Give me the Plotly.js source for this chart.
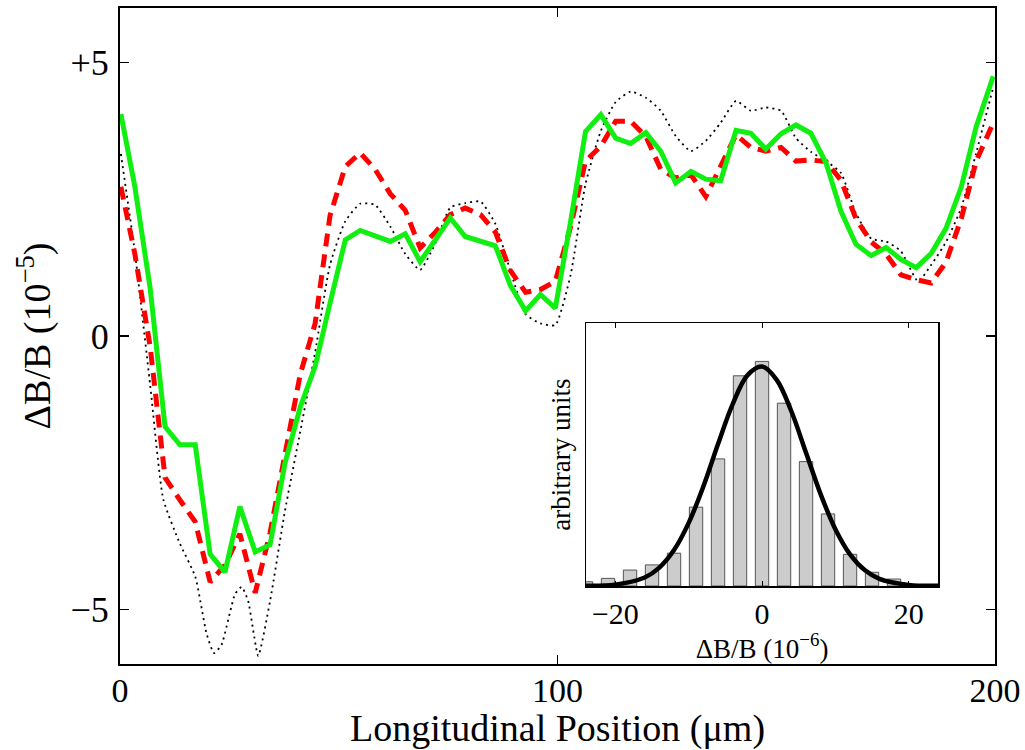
<!DOCTYPE html>
<html>
<head>
<meta charset="utf-8">
<script src="https://cdn.plot.ly/plotly-3.0.1.min.js"></script>
<style>
  html, body { margin: 0; padding: 0; background: #fff; }
  #chart { width: 1025px; height: 750px; }
</style>
</head>
<body>
<div id="chart"></div>
<script>
// ---- Main plot data (longitudinal position in µm, ΔB/B in 1e-5) ----
const positions = [0.2, 3.4, 6.9, 10.3, 13.7, 17.2, 20.6, 24.0, 27.4, 30.9, 34.3, 37.7, 41.2, 44.6, 48.0, 51.5, 54.9, 58.3, 61.8, 65.2, 68.6, 72.1, 75.5, 78.9, 82.4, 85.8, 89.2, 92.7, 96.1, 99.5, 103.0, 106.4, 109.9, 113.3, 116.7, 120.2, 123.6, 127.0, 130.5, 133.9, 137.3, 140.8, 144.2, 147.6, 151.1, 154.5, 157.9, 161.4, 164.8, 168.2, 171.7, 175.1, 178.5, 182.0, 185.4, 188.8, 192.3, 195.7, 199.6];

const greenValues = [4.06, 2.73, 0.87, -1.66, -1.99, -1.99, -3.99, -4.32, -3.12, -3.95, -3.82, -2.33, -1.30, -0.56, 0.60, 1.76, 1.93, 1.83, 1.73, 1.87, 1.36, 1.76, 2.16, 1.82, 1.74, 1.65, 0.93, 0.46, 0.76, 0.51, 2.10, 3.74, 4.05, 3.62, 3.52, 3.72, 3.38, 2.80, 3.01, 2.87, 2.84, 3.76, 3.71, 3.42, 3.70, 3.86, 3.71, 3.16, 2.28, 1.68, 1.47, 1.62, 1.40, 1.25, 1.51, 1.97, 2.73, 3.83, 4.75];

const redValues = [2.73, 1.50, -0.20, -2.59, -3.00, -3.40, -4.50, -4.19, -3.62, -4.70, -3.60, -2.20, -0.70, 0.23, 2.20, 3.10, 3.35, 3.05, 2.60, 2.30, 1.61, 1.90, 2.22, 2.34, 2.22, 1.90, 1.20, 0.80, 0.85, 1.00, 2.00, 3.20, 3.47, 3.93, 3.93, 3.65, 3.05, 2.89, 2.95, 2.55, 3.10, 3.68, 3.45, 3.38, 3.45, 3.20, 3.22, 3.19, 2.85, 2.15, 1.72, 1.50, 1.12, 1.03, 0.97, 1.35, 2.15, 3.20, 3.90];

const dottedPositions = [0.2, 3.4, 6.9, 9.9, 13.7, 17.2, 19.8, 21.5, 23.2, 26.3, 27.8, 29.3, 31.6, 34.3, 37.7, 41.2, 44.6, 48.0, 51.5, 54.9, 58.3, 61.8, 65.2, 68.6, 72.1, 75.5, 78.9, 82.4, 85.8, 89.2, 92.7, 96.1, 99.5, 103.0, 106.4, 109.9, 113.3, 116.7, 120.2, 123.6, 127.0, 130.5, 133.9, 137.3, 140.8, 144.2, 147.6, 151.1, 154.5, 157.9, 161.4, 164.8, 168.2, 171.7, 175.1, 178.5, 182.4, 185.4, 188.8, 192.3, 195.7, 199.6];

const dottedValues = [3.33, 1.53, -0.90, -2.99, -3.80, -4.40, -5.45, -5.80, -5.65, -4.72, -4.59, -4.85, -5.85, -4.85, -3.20, -1.75, -0.30, 1.30, 2.10, 2.42, 2.40, 2.00, 1.50, 1.21, 1.70, 2.35, 2.43, 2.46, 2.05, 1.20, 0.40, 0.23, 0.20, 1.12, 2.78, 3.75, 4.28, 4.47, 4.36, 4.12, 3.66, 3.38, 3.57, 3.90, 4.30, 4.12, 4.18, 4.12, 3.62, 3.37, 3.20, 2.98, 2.25, 1.78, 1.73, 1.55, 1.00, 1.30, 1.72, 2.35, 3.35, 4.55];

const mainXTicks = [0, 100, 200];
const mainYTicks = [-5, 0, 5];
const mainYTickText = ['\u22125', '0', '+5'];

// ---- Inset histogram data (ΔB/B in 1e-6, arbitrary units) ----
const binCenters = [-24, -21, -18, -15, -12, -9, -6, -3, 0, 3, 6, 9, 12, 15, 18];
const binHeights = [1.9, 3.4, 7.1, 9.4, 14.6, 35.1, 56.6, 93.6, 100, 81.4, 55.4, 32.1, 14.1, 6.1, 3.1];
const fitX = [-24, -20, -16, -14, -12, -10, -8, -6, -4, -2, 0, 2, 4, 6, 8, 10, 12, 14, 16, 20, 24];
const fitY = [0.1, 0.6, 3.8, 8.2, 16.0, 28.1, 44.3, 63.2, 81.0, 93.8, 97.7, 91.8, 77.8, 59.3, 40.8, 25.3, 14.1, 7.1, 3.2, 0.5, 0.1];
const insetXTicks = [-20, 0, 20];

const serif = 'Liberation Serif, Times New Roman, serif';

const traces = [
  {
    x: dottedPositions, y: dottedValues, type: 'scatter', mode: 'lines',
    line: {color: '#000000', width: 1.8, dash: '2px,4px', shape: 'spline', smoothing: 0.5},
    xaxis: 'x', yaxis: 'y', hoverinfo: 'skip', showlegend: false
  },
  {
    x: positions, y: redValues, type: 'scatter', mode: 'lines',
    line: {color: '#ff0000', width: 5, dash: '13px,8px'},
    xaxis: 'x', yaxis: 'y', showlegend: false
  },
  {
    x: positions, y: greenValues, type: 'scatter', mode: 'lines',
    line: {color: '#11ee11', width: 5},
    xaxis: 'x', yaxis: 'y', showlegend: false
  },
  {
    x: binCenters, y: binHeights, type: 'bar', width: 1.82,
    marker: {color: '#cccccc', line: {color: '#555555', width: 1}},
    xaxis: 'x2', yaxis: 'y2', showlegend: false
  },
  {
    x: fitX, y: fitY, type: 'scatter', mode: 'lines',
    line: {color: '#000000', width: 4.5, shape: 'spline', smoothing: 1},
    xaxis: 'x2', yaxis: 'y2', showlegend: false
  }
];

const layout = {
  width: 1025, height: 750,
  margin: {l: 120, r: 30, t: 8, b: 86},
  paper_bgcolor: '#ffffff', plot_bgcolor: '#ffffff',
  showlegend: false,
  font: {family: serif, color: '#000000'},
  xaxis: {
    range: [0, 200], tickvals: mainXTicks, ticks: 'inside', ticklen: 9, tickwidth: 1.5,
    tickcolor: '#000', showline: true, linecolor: '#000', linewidth: 2, mirror: 'ticks',
    showgrid: false, zeroline: false, automargin: false, ticklabelstandoff: -5,
    tickfont: {family: serif, size: 34, color: '#000'},
    title: {text: 'Longitudinal Position (\u03bcm)', font: {family: serif, size: 38, color: '#000'}, standoff: 14}
  },
  yaxis: {
    range: [-6, 6], tickvals: mainYTicks, ticktext: mainYTickText, ticks: 'inside', ticklen: 9, tickwidth: 1.5,
    tickcolor: '#000', showline: true, linecolor: '#000', linewidth: 2, mirror: 'ticks',
    showgrid: false, zeroline: false, automargin: false, ticklabelstandoff: 2,
    tickfont: {family: serif, size: 36, color: '#000'},
    title: {text: '\u0394B/B (10<sup>\u22125</sup>)', font: {family: serif, size: 38, color: '#000'}, standoff: 8}
  },
  xaxis2: {
    domain: [0.5326, 0.9349], anchor: 'y2', range: [-24, 24], tickvals: insetXTicks,
    ticks: 'inside', ticklen: 5, tickwidth: 1, tickcolor: '#000',
    showline: true, linecolor: '#000', linewidth: 1.5, mirror: 'ticks',
    showgrid: false, zeroline: false, automargin: false, ticklabelstandoff: 0,
    tickfont: {family: serif, size: 30, color: '#000'},
    title: {text: '\u0394B/B (10<sup>\u22126</sup>)', font: {family: serif, size: 27, color: '#000'}, standoff: 0}
  },
  yaxis2: {
    domain: [0.1189, 0.5198], anchor: 'x2', range: [0, 117.1],
    showticklabels: false, ticks: '', showline: true, linecolor: '#000', linewidth: 1.5, mirror: true,
    showgrid: false, zeroline: false, automargin: false,
    title: {text: 'arbitrary units', font: {family: serif, size: 27, color: '#000'}, standoff: 6}
  }
};

Plotly.newPlot('chart', traces, layout, {staticPlot: true, displayModeBar: false});
</script>
</body>
</html>
